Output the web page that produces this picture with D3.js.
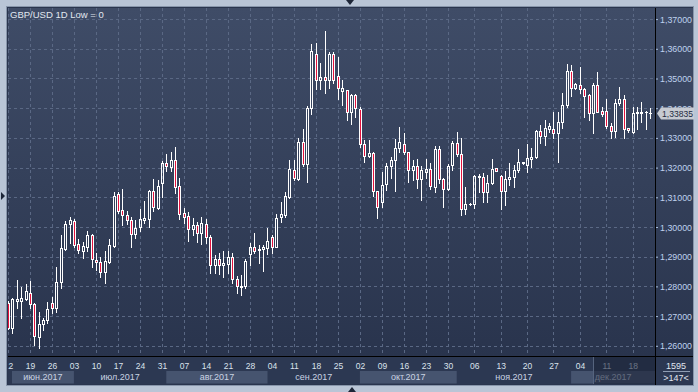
<!DOCTYPE html>
<html>
<head>
<meta charset="utf-8">
<script src="https://cdn.jsdelivr.net/npm/d3@7"></script>
<style>
  html, body { margin: 0; padding: 0; background: #b9c5d6; }
  svg { display: block; font-family: "Liberation Sans", Arial, sans-serif; }
</style>
</head>
<body>
<svg id="chart" width="698" height="392"></svg>
<script>
const title = "GBP/USD 1D Low = 0";
const monthNames = ["июн.2017", "июл.2017", "авг.2017", "сен.2017", "окт.2017", "ноя.2017", "дек.2017"];

const dates = [
  "2017-06-12","2017-06-13","2017-06-14","2017-06-15","2017-06-16","2017-06-19","2017-06-20","2017-06-21","2017-06-22","2017-06-23",
  "2017-06-26","2017-06-27","2017-06-28","2017-06-29","2017-06-30",
  "2017-07-03","2017-07-04","2017-07-05","2017-07-06","2017-07-07","2017-07-10","2017-07-11","2017-07-12","2017-07-13","2017-07-14",
  "2017-07-17","2017-07-18","2017-07-19","2017-07-20","2017-07-21","2017-07-24","2017-07-25","2017-07-26","2017-07-27","2017-07-28","2017-07-31",
  "2017-08-01","2017-08-02","2017-08-03","2017-08-04","2017-08-07","2017-08-08","2017-08-09","2017-08-10","2017-08-11","2017-08-14",
  "2017-08-15","2017-08-16","2017-08-17","2017-08-18","2017-08-21","2017-08-22","2017-08-23","2017-08-24","2017-08-25","2017-08-28",
  "2017-08-29","2017-08-30","2017-08-31",
  "2017-09-01","2017-09-04","2017-09-05","2017-09-06","2017-09-07","2017-09-08","2017-09-11","2017-09-12","2017-09-13","2017-09-14",
  "2017-09-15","2017-09-18","2017-09-19","2017-09-20","2017-09-21","2017-09-22","2017-09-25","2017-09-26","2017-09-27","2017-09-28","2017-09-29",
  "2017-10-02","2017-10-03","2017-10-04","2017-10-05","2017-10-06","2017-10-09","2017-10-10","2017-10-11","2017-10-12","2017-10-13",
  "2017-10-16","2017-10-17","2017-10-18","2017-10-19","2017-10-20","2017-10-23","2017-10-24","2017-10-25","2017-10-26","2017-10-27",
  "2017-10-30","2017-10-31",
  "2017-11-01","2017-11-02","2017-11-03","2017-11-05","2017-11-06","2017-11-07","2017-11-08","2017-11-09","2017-11-10","2017-11-12",
  "2017-11-13","2017-11-14","2017-11-15","2017-11-16","2017-11-17","2017-11-19","2017-11-20","2017-11-21","2017-11-22","2017-11-23",
  "2017-11-24","2017-11-26","2017-11-27","2017-11-28","2017-11-29","2017-11-30",
  "2017-12-01","2017-12-03","2017-12-04","2017-12-05","2017-12-06","2017-12-07","2017-12-08","2017-12-10","2017-12-11","2017-12-12",
  "2017-12-13","2017-12-14","2017-12-15","2017-12-17","2017-12-18","2017-12-19","2017-12-20","2017-12-21","2017-12-22"
];

const open = [
  1.2743,1.2661,1.2751,1.2752,1.2758,1.2777,1.2741,1.2631,1.2672,1.2687,1.2743,1.2726,1.2816,1.2926,1.3009,
  1.3020,1.2942,1.2920,1.2934,1.2973,1.2889,1.2881,1.2847,1.2883,1.2936,1.3111,1.3057,1.3039,1.3024,1.2975,
  1.2999,1.3024,1.3026,1.3121,1.3065,1.3149,1.3214,1.3203,1.3226,1.3138,1.3048,1.3037,1.2992,1.3007,1.2979,
  1.3010,1.2965,1.2872,1.2891,1.2872,1.2874,1.2900,1.2824,1.2799,1.2801,1.2908,1.2934,1.2923,1.2925,1.2930,
  1.2965,1.2934,1.3035,1.3040,1.3102,1.3192,1.3162,1.3285,1.3211,1.3400,1.3582,1.3495,1.3504,1.3495,1.3582,
  1.3508,1.3459,1.3461,1.3386,1.3444,1.3397,1.3278,1.3239,1.3250,1.3121,1.3083,1.3144,1.3205,1.3226,1.3265,
  1.3279,1.3252,1.3191,1.3205,1.3161,1.3185,1.3196,1.3134,1.3262,1.3163,1.3127,1.3209,1.3282,1.3245,1.3061,
  1.3076,1.3077,1.3173,1.3167,1.3117,1.3147,1.3198,1.3172,1.3122,1.3161,1.3167,1.3192,1.3215,1.3209,1.3229,
  1.3235,1.3323,1.3306,1.3331,1.3330,1.3318,1.3353,1.3411,1.3525,1.3469,1.3478,1.3464,1.3444,1.3383,1.3478,
  1.3391,1.3390,1.3340,1.3323,1.3417,1.3430,1.3332,1.3321,1.3383,1.3385,1.3387,1.3384
];
const high = [
  1.2750,1.2760,1.2822,1.2799,1.2808,1.2818,1.2745,1.2713,1.2695,1.2748,1.2763,1.2866,1.2973,1.3020,1.3035,
  1.3027,1.2959,1.2951,1.2988,1.2975,1.2913,1.2900,1.2919,1.2959,1.3119,1.3119,1.3128,1.3054,1.3033,1.3024,
  1.3060,1.3088,1.3125,1.3161,1.3158,1.3223,1.3246,1.3254,1.3270,1.3166,1.3063,1.3052,1.3029,1.3018,1.3033,
  1.3026,1.2973,1.2906,1.2911,1.2919,1.2919,1.2911,1.2835,1.2838,1.2893,1.2945,1.2979,1.2938,1.2939,1.2996,
  1.2973,1.3044,1.3085,1.3119,1.3226,1.3226,1.3299,1.3330,1.3407,1.3616,1.3619,1.3553,1.3660,1.3590,1.3590,
  1.3573,1.3495,1.3462,1.3448,1.3448,1.3403,1.3293,1.3293,1.3254,1.3121,1.3186,1.3217,1.3237,1.3295,1.3338,
  1.3315,1.3254,1.3226,1.3228,1.3205,1.3228,1.3214,1.3273,1.3273,1.3164,1.3212,1.3290,1.3321,1.3299,1.3136,
  1.3080,1.3175,1.3178,1.3181,1.3175,1.3228,1.3199,1.3175,1.3189,1.3214,1.3209,1.3262,1.3219,1.3278,1.3265,
  1.3327,1.3343,1.3360,1.3349,1.3388,1.3388,1.3452,1.3549,1.3545,1.3486,1.3538,1.3467,1.3447,1.3484,1.3521,
  1.3405,1.3430,1.3349,1.3430,1.3470,1.3444,1.3334,1.3405,1.3405,1.3422,1.3391,1.3400
];
const low = [
  1.2655,1.2644,1.2726,1.2693,1.2755,1.2726,1.2603,1.2592,1.2653,1.2676,1.2709,1.2715,1.2794,1.2923,1.2945,
  1.2934,1.2913,1.2895,1.2920,1.2866,1.2855,1.2833,1.2812,1.2880,1.2932,1.3048,1.3007,1.3009,1.2934,1.2964,
  1.2988,1.3012,1.2999,1.3055,1.3061,1.3100,1.3189,1.3190,1.3113,1.3026,1.3014,1.2954,1.2973,1.2951,1.2942,
  1.2945,1.2846,1.2844,1.2842,1.2833,1.2844,1.2810,1.2779,1.2771,1.2794,1.2872,1.2911,1.2878,1.2853,1.2909,
  1.2913,1.2932,1.3018,1.3033,1.3097,1.3158,1.3158,1.3206,1.3153,1.3379,1.3464,1.3464,1.3450,1.3467,1.3484,
  1.3430,1.3411,1.3360,1.3347,1.3372,1.3270,1.3220,1.3237,1.3104,1.3029,1.3068,1.3125,1.3164,1.3122,1.3254,
  1.3246,1.3153,1.3158,1.3132,1.3091,1.3164,1.3127,1.3119,1.3147,1.3068,1.3125,1.3192,1.3240,1.3040,1.3044,
  1.3074,1.3063,1.3119,1.3085,1.3085,1.3145,1.3187,1.3061,1.3074,1.3141,1.3136,1.3186,1.3212,1.3186,1.3203,
  1.3231,1.3282,1.3276,1.3319,1.3301,1.3220,1.3334,1.3405,1.3441,1.3464,1.3450,1.3369,1.3360,1.3318,1.3388,
  1.3375,1.3334,1.3301,1.3304,1.3411,1.3301,1.3319,1.3318,1.3330,1.3355,1.3330,1.3366
];
const close = [
  1.2661,1.2757,1.2757,1.2760,1.2785,1.2741,1.2633,1.2673,1.2687,1.2723,1.2726,1.2816,1.2928,1.3009,1.3024,
  1.2939,1.2923,1.2936,1.2972,1.2891,1.2881,1.2847,1.2886,1.2938,1.3104,1.3055,1.3039,1.3024,1.2975,1.2996,
  1.3028,1.3029,1.3121,1.3066,1.3138,1.3214,1.3206,1.3226,1.3136,1.3043,1.3035,1.2992,1.3007,1.2979,1.3012,
  1.2965,1.2872,1.2891,1.2872,1.2878,1.2900,1.2824,1.2801,1.2801,1.2885,1.2934,1.2920,1.2926,1.2932,1.2953,
  1.2934,1.3031,1.3043,1.3104,1.3194,1.3164,1.3285,1.3211,1.3400,1.3594,1.3495,1.3506,1.3495,1.3582,1.3495,
  1.3467,1.3467,1.3386,1.3444,1.3400,1.3278,1.3239,1.3250,1.3121,1.3066,1.3141,1.3205,1.3226,1.3265,1.3285,
  1.3252,1.3191,1.3205,1.3161,1.3191,1.3196,1.3137,1.3262,1.3161,1.3129,1.3206,1.3282,1.3245,1.3061,1.3077,
  1.3078,1.3173,1.3167,1.3117,1.3147,1.3195,1.3190,1.3122,1.3161,1.3167,1.3192,1.3220,1.3218,1.3231,1.3235,
  1.3323,1.3306,1.3332,1.3340,1.3318,1.3353,1.3411,1.3525,1.3469,1.3481,1.3464,1.3442,1.3383,1.3478,1.3388,
  1.3379,1.3340,1.3323,1.3417,1.3430,1.3329,1.3327,1.3383,1.3386,1.3386,1.3388,1.33835
];

const priceTicks = [1.26, 1.27, 1.28, 1.29, 1.30, 1.31, 1.32, 1.33, 1.34, 1.35, 1.36, 1.37];
const lastPrice = 1.33835;
const totalBars = 1595;
const visibleBars = 147;
const shadeFrom = "2017-12-07"; // start of the dimmed zone in the time bar

// layout
const plot = { left: 8, top: 8, right: 655, bottom: 356 };
const parse = d3.timeParse("%Y-%m-%d");
const fmtPrice = v => d3.format(".5f")(v).replace(".", ",");

const svg = d3.select("#chart");
const defs = svg.append("defs");

const grad = defs.append("linearGradient")
    .attr("id", "bg").attr("x1", 0).attr("y1", 0).attr("x2", 0).attr("y2", 1);
grad.append("stop").attr("offset", "0%").attr("stop-color", "#3f4c67");
grad.append("stop").attr("offset", "100%").attr("stop-color", "#29344d");

defs.append("clipPath").attr("id", "plotClip")
    .append("rect")
    .attr("x", plot.left).attr("y", plot.top)
    .attr("width", plot.right - plot.left).attr("height", plot.bottom - plot.top);

defs.append("clipPath").attr("id", "timeClip")
    .append("rect")
    .attr("x", plot.left).attr("y", plot.bottom)
    .attr("width", plot.right - plot.left).attr("height", 29);

// frame
svg.append("rect").attr("width", 698).attr("height", 392).attr("fill", "#b9c5d6");
svg.append("rect")
    .attr("x", 6.5).attr("y", 6.5).attr("width", 687).attr("height", 379)
    .attr("fill", "#2a354e").attr("stroke", "#8896ab");
svg.append("rect")
    .attr("x", plot.left).attr("y", plot.top)
    .attr("width", 685).attr("height", plot.bottom - plot.top)
    .attr("fill", "url(#bg)");
svg.append("rect")
    .attr("x", plot.left).attr("y", plot.bottom)
    .attr("width", 685).attr("height", 28)
    .attr("fill", "#2c3852");

const x = d3.scalePoint().domain(dates).range([7.9, 650.3]);
const y = d3.scaleLinear().domain([1.26, 1.37]).range([345.8, 19.1]);

const mondays = dates.filter(d => parse(d).getDay() === 1);

// grid
const grid = svg.append("g").attr("clip-path", "url(#plotClip)")
    .attr("stroke", "#5a6884").attr("stroke-dasharray", "3,3");
grid.selectAll("line.h").data(priceTicks).join("line")
    .attr("x1", plot.left).attr("x2", plot.right)
    .attr("y1", d => Math.round(y(d)) + 0.5).attr("y2", d => Math.round(y(d)) + 0.5);
grid.selectAll("line.v").data(mondays).join("line")
    .attr("y1", plot.top).attr("y2", plot.bottom)
    .attr("x1", d => Math.round(x(d)) + 0.5).attr("x2", d => Math.round(x(d)) + 0.5);

// title
svg.append("text")
    .attr("x", 10).attr("y", 17.5)
    .attr("fill", "#e2e8f0").attr("font-size", "9.5px")
    .text(title);

// candles
const candles = dates.map((d, i) => ({ date: d, o: open[i], h: high[i], l: low[i], c: close[i] }));
const bars = svg.append("g").attr("clip-path", "url(#plotClip)")
    .selectAll("g").data(candles).join("g");

bars.each(function (d) {
    const g = d3.select(this);
    const c = Math.round(x(d.date));
    const top = Math.round(y(Math.max(d.o, d.c)));
    const bot = Math.round(y(Math.min(d.o, d.c)));
    const up = d.c >= d.o;

    g.append("line")
        .attr("x1", c + 0.5).attr("x2", c + 0.5)
        .attr("y1", Math.round(y(d.h))).attr("y2", top)
        .attr("stroke", "#fff");
    g.append("line")
        .attr("x1", c + 0.5).attr("x2", c + 0.5)
        .attr("y1", bot + 1).attr("y2", Math.round(y(d.l)) + 1)
        .attr("stroke", "#fff");

    if (bot - top < 1) {
        g.append("line")
            .attr("x1", c - 1).attr("x2", c + 2)
            .attr("y1", top + 0.5).attr("y2", top + 0.5)
            .attr("stroke", "#fff");
    } else {
        g.append("rect")
            .attr("x", c - 0.5).attr("width", 2)
            .attr("y", top + 0.5).attr("height", bot - top)
            .attr("fill", up ? "none" : "#e3123d")
            .attr("stroke", "#fff");
    }
});

// price axis
const yAxis = svg.append("g")
    .attr("transform", `translate(${plot.right + 1},0)`)
    .call(d3.axisRight(y).tickValues(priceTicks).tickSize(2).tickPadding(2).tickFormat(fmtPrice));
yAxis.select(".domain").remove();
yAxis.selectAll("line").attr("stroke", "#a9bfdc");
yAxis.selectAll("text")
    .attr("fill", "#bfd2ee")
    .attr("font-size", "9.5px")
    .attr("font-family", "Liberation Sans, Arial, sans-serif")
    .attr("textLength", 32).attr("lengthAdjust", "spacingAndGlyphs");

// time bar: month bands
const byMonth = d3.groups(dates, d => d.slice(0, 7));
const bands = byMonth.map(([m, ds], i) => {
    const next = byMonth[i + 1];
    return {
        name: monthNames[i],
        x0: Math.max(x(ds[0]), 12),
        x1: next ? x(next[1][0]) : plot.right
    };
});

const timeBar = svg.append("g").attr("clip-path", "url(#timeClip)");
timeBar.selectAll("rect.band").data(bands).join("rect")
    .attr("x", d => d.x0).attr("width", d => d.x1 - d.x0)
    .attr("y", 371).attr("height", 12.5)
    .attr("fill", (d, i) => i % 2 === 0 ? "#46546f" : "none");
timeBar.selectAll("text.month").data(bands).join("text")
    .attr("x", d => (d.x0 + d.x1) / 2).attr("y", 380)
    .attr("text-anchor", "middle")
    .attr("fill", "#c9d3e2").attr("font-size", "9px")
    .text(d => d.name);

const xAxis = timeBar.append("g")
    .attr("transform", `translate(0,${plot.bottom})`)
    .call(d3.axisBottom(x).tickValues(mondays).tickSize(0).tickPadding(6.5).tickFormat(d => d.slice(8)));
xAxis.select(".domain").remove();
xAxis.selectAll("text")
    .attr("fill", "#dbe2ec").attr("font-size", "8.5px")
    .attr("font-family", "Liberation Sans, Arial, sans-serif");

// dimmed zone at the right of the time bar
const sx = Math.round(x(shadeFrom)) + 0.5;
timeBar.append("rect")
    .attr("x", sx).attr("y", plot.bottom + 1)
    .attr("width", plot.right - sx).attr("height", 27)
    .attr("fill", "#1c2539").attr("fill-opacity", 0.6);
timeBar.append("line")
    .attr("x1", sx).attr("x2", sx).attr("y1", plot.bottom + 1).attr("y2", plot.bottom + 28)
    .attr("stroke", "#56647e");

// separators
svg.append("line")
    .attr("x1", plot.right + 0.5).attr("x2", plot.right + 0.5)
    .attr("y1", plot.top).attr("y2", 385)
    .attr("stroke", "#000");
svg.append("line")
    .attr("x1", plot.left).attr("x2", 693)
    .attr("y1", plot.bottom + 0.5).attr("y2", plot.bottom + 0.5)
    .attr("stroke", "#000");

// bar counters
svg.append("text")
    .attr("x", 676).attr("y", 368.5).attr("text-anchor", "middle")
    .attr("fill", "#e0e6f0").attr("font-size", "9px")
    .text(totalBars);
svg.append("line")
    .attr("x1", 663).attr("x2", 690).attr("y1", 371.5).attr("y2", 371.5)
    .attr("stroke", "#8f9db3");
svg.append("text")
    .attr("x", 676).attr("y", 380.5).attr("text-anchor", "middle")
    .attr("fill", "#e0e6f0").attr("font-size", "9px")
    .text(`>${visibleBars}<`);

// last price marker
const ly = Math.round(y(lastPrice)) + 0.5;
svg.append("path")
    .attr("d", `M657,${ly} L661,${ly - 6} L694,${ly - 6} L694,${ly + 6} L661,${ly + 6} Z`)
    .attr("fill", "#c6cad2");
svg.append("text")
    .attr("x", 662).attr("y", ly + 3.5)
    .attr("fill", "#1f2b42").attr("font-size", "9.5px")
    .attr("textLength", 31).attr("lengthAdjust", "spacingAndGlyphs")
    .text(fmtPrice(lastPrice));

// small arrows on the frame
svg.append("path").attr("d", "M346,0 L354,0 L350,5 Z").attr("fill", "#1d2638");
svg.append("path").attr("d", "M348,392 L356,392 L352,387 Z").attr("fill", "#1d2638");
svg.append("path").attr("d", "M1,192 L1,200 L5,196 Z").attr("fill", "#1d2638");
</script>
</body>
</html>
